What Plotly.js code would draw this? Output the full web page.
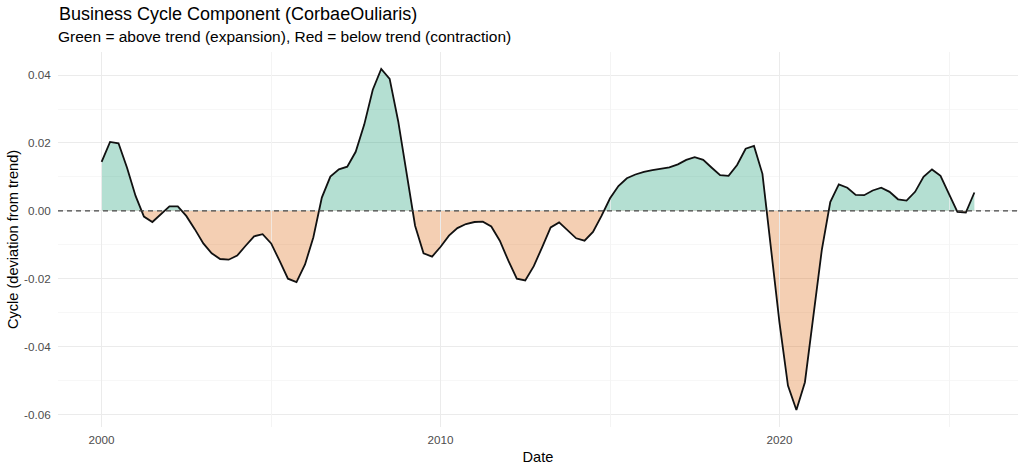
<!DOCTYPE html>
<html>
<head>
<meta charset="utf-8">
<script src="https://cdn.plot.ly/plotly-3.0.1.min.js"></script>
<style>
  html, body { margin: 0; padding: 0; background: #fff; }
  #chart { width: 1024px; height: 469px; }
</style>
</head>
<body>
<div id="chart"></div>
<script>
// quarterly cycle values, 2000 Q1 .. 2025 Q4
const startYear = 2000;
const cycle = [
   0.0144,  0.0203,  0.0199,  0.0127,   // 2000
   0.0044, -0.0017, -0.0033, -0.0010,   // 2001
   0.0013,  0.0013, -0.0015, -0.0054,   // 2002
  -0.0096, -0.0125, -0.0142, -0.0144,   // 2003
  -0.0132, -0.0103, -0.0075, -0.0069,   // 2004
  -0.0096, -0.0147, -0.0200, -0.0210,   // 2005
  -0.0158, -0.0078,  0.0039,  0.0101,   // 2006
   0.0122,  0.0130,  0.0174,  0.0254,   // 2007
   0.0357,  0.0418,  0.0389,  0.0264,   // 2008
   0.0103, -0.0044, -0.0125, -0.0135,   // 2009
  -0.0106, -0.0073, -0.0051, -0.0039,   // 2010
  -0.0033, -0.0032, -0.0046, -0.0088,   // 2011
  -0.0147, -0.0200, -0.0205, -0.0163,   // 2012
  -0.0106, -0.0049, -0.0034, -0.0057,   // 2013
  -0.0081, -0.0088, -0.0062, -0.0015,   // 2014
   0.0037,  0.0073,  0.0096,  0.0107,   // 2015
   0.0115,  0.0120,  0.0124,  0.0128,   // 2016
   0.0137,  0.0150,  0.0158,  0.0150,   // 2017
   0.0127,  0.0105,  0.0103,  0.0135,   // 2018
   0.0183,  0.0191,  0.0109, -0.0112,   // 2019
  -0.0330, -0.0515, -0.0587, -0.0505,   // 2020
  -0.0300, -0.0115,  0.0026,  0.0078,   // 2021
   0.0068,  0.0047,  0.0046,  0.0060,   // 2022
   0.0068,  0.0056,  0.0034,  0.0030,   // 2023
   0.0056,  0.0100,  0.0122,  0.0103,   // 2024
   0.0049, -0.0003, -0.0005,  0.0054    // 2025
];

const yTickVals = [-0.06, -0.04, -0.02, 0.00, 0.02, 0.04];
const yTickText = ['-0.06', '-0.04', '-0.02', '0.00', '0.02', '0.04'];
const yMinorVals = [-0.05, -0.03, -0.01, 0.01, 0.03];
const yRange = [-0.0637, 0.0468];
const xRange = ['1998-09-18', '2027-01-14'];

// quarter start dates
let dates = [];
for (let i = 0; i < cycle.length; i++) {
    let yr = startYear + Math.floor(i / 4);
    let mo = (i % 4) * 3 + 1;
    dates.push(yr + '-' + String(mo).padStart(2, '0') + '-01');
}

// zero sits at this fraction of the panel height; the fills live on two
// half-panel axes so the plot area clips each one exactly at zero
const zeroFrac = (0 - yRange[0]) / (yRange[1] - yRange[0]);

const font = 'Liberation Sans, Arial, sans-serif';
const gridCol = '#ebebeb';
const minorCol = '#f3f3f3';

// empty trace so the main (gridded, labelled) subplot exists
let baseTrace = {
    x: [], y: [], xaxis: 'x', yaxis: 'y',
    mode: 'lines', hoverinfo: 'skip'
};
let aboveTrace = {
    x: dates, y: cycle, xaxis: 'x', yaxis: 'y2',
    mode: 'lines', fill: 'tozeroy',
    fillcolor: 'rgba(27,158,119,0.33)',
    line: {width: 0, color: 'rgba(0,0,0,0)'},
    hoverinfo: 'skip'
};
let belowTrace = {
    x: dates, y: cycle, xaxis: 'x', yaxis: 'y3',
    mode: 'lines', fill: 'tozeroy',
    fillcolor: 'rgba(217,95,2,0.3)',
    line: {width: 0, color: 'rgba(0,0,0,0)'},
    hoverinfo: 'skip'
};
let lineTrace = {
    x: dates, y: cycle, xaxis: 'x', yaxis: 'y4',
    mode: 'lines',
    line: {color: '#111111', width: 1.8}
};

let layout = {
    width: 1024, height: 469,
    margin: {l: 58, r: 6, t: 52, b: 42},
    paper_bgcolor: '#ffffff', plot_bgcolor: 'rgba(0,0,0,0)',
    showlegend: false,
    hovermode: false,
    font: {family: font, color: '#000000'},
    title: {
        text: 'Business Cycle Component (CorbaeOuliaris)',
        font: {family: font, size: 18, color: '#000000'},
        xref: 'container', x: 59 / 1024, xanchor: 'left',
        yref: 'container', y: 1 - 14 / 469, yanchor: 'middle'
    },
    annotations: [{
        text: 'Green = above trend (expansion), Red = below trend (contraction)',
        xref: 'paper', x: -2 / 960, xanchor: 'left',
        yref: 'paper', y: 1.04, yanchor: 'middle',
        showarrow: false,
        font: {family: font, size: 15.5, color: '#000000'}
    }],
    xaxis: {
        type: 'date', range: xRange, anchor: 'y',
        tick0: '2000-01-01', dtick: 'M120', tickformat: '%Y',
        showgrid: true, gridcolor: gridCol, gridwidth: 1,
        minor: {tick0: '2000-01-01', dtick: 'M60', showgrid: true, gridcolor: minorCol, gridwidth: 0.7},
        zeroline: false, showline: false,
        ticks: 'outside', ticklen: 2, tickcolor: 'rgba(0,0,0,0)',
        tickfont: {family: font, size: 11.7, color: '#4d4d4d'},
        title: {text: 'Date', font: {family: font, size: 14.6, color: '#000000'}, standoff: 6},
        fixedrange: true
    },
    yaxis: {
        domain: [0, 1], range: yRange, anchor: 'x',
        tickmode: 'array', tickvals: yTickVals, ticktext: yTickText,
        showgrid: true, gridcolor: gridCol, gridwidth: 1,
        minor: {tickmode: 'array', tickvals: yMinorVals, showgrid: true, gridcolor: minorCol, gridwidth: 0.7},
        zeroline: false, showline: false,
        ticks: 'outside', ticklen: 4, tickcolor: 'rgba(0,0,0,0)',
        tickfont: {family: font, size: 11.7, color: '#4d4d4d'},
        title: {text: 'Cycle (deviation from trend)', font: {family: font, size: 14.6, color: '#000000'}, standoff: 1},
        fixedrange: true
    },
    yaxis2: {domain: [zeroFrac, 1], range: [0, yRange[1]], anchor: 'x', visible: false, fixedrange: true},
    yaxis3: {domain: [0, zeroFrac], range: [yRange[0], 0], anchor: 'x', visible: false, fixedrange: true},
    yaxis4: {domain: [0, 1], range: yRange, anchor: 'x', visible: false, fixedrange: true},
    shapes: [{
        type: 'line', xref: 'paper', x0: 0, x1: 1, yref: 'y4', y0: 0, y1: 0,
        line: {color: '#444444', width: 1.2, dash: '5px,4px'}
    }]
};

Plotly.newPlot('chart', [baseTrace, aboveTrace, belowTrace, lineTrace], layout, {displayModeBar: false, staticPlot: true});
</script>
</body>
</html>
